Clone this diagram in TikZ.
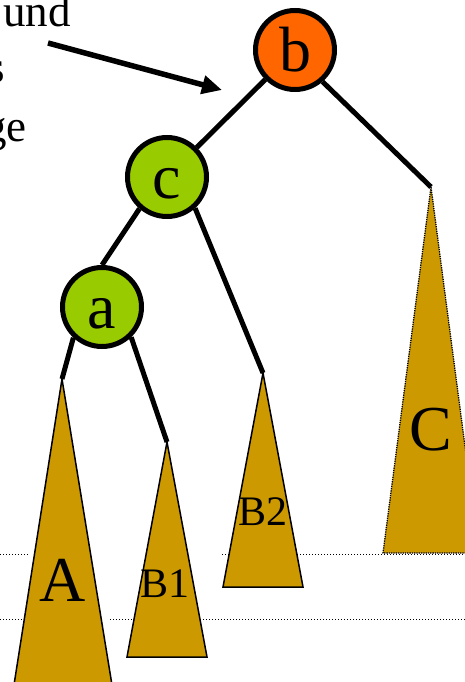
\documentclass[tikz,border=0pt]{standalone}
\usepackage{fontspec}
\setmainfont{Liberation Serif}
\usetikzlibrary{arrows.meta}
\definecolor{borange}{HTML}{FF6600}
\definecolor{lgreen}{HTML}{99CC00}
\definecolor{gold}{HTML}{CC9900}
\begin{document}
\begin{tikzpicture}[x=1pt,y=-1pt,
  treenode/.style={circle, draw=black, line width=5pt, minimum size=79pt, inner sep=0pt,
    font=\fontsize{64}{64}\selectfont, text height=43pt, text depth=0pt},
  treeedge/.style={line width=5pt},
  subtree/.style={fill=gold, draw=black, line width=1.5pt, line join=miter},
  biglabel/.style={inner sep=0pt, font=\fontsize{64}{64}\selectfont},
  smalllabel/.style={inner sep=0pt, font=\fontsize{42}{42}\selectfont},
  sidetext/.style={anchor=base east, inner sep=0pt, font=\fontsize{45}{45}\selectfont},
  guide/.style={dotted, line width=1pt, draw=black}
]
\useasboundingbox (0,0) rectangle (465,682);
\clip (0,0) rectangle (465,682);
% guide lines
\draw[guide] (0,554) -- (28,554);
\draw[guide] (222,554) -- (465,554);
\draw[guide] (0,619) -- (25,619);
\draw[guide] (110,619) -- (465,619);
% apexes
\coordinate (Atop) at (62,379);
\coordinate (B1top) at (167,442);
\coordinate (B2top) at (263,373);
\coordinate (Ctop) at (431,187);
% subtrees
\draw[subtree] (Atop) -- (13.5,688) -- (112.5,688) -- cycle;
\draw[subtree] (B1top) -- (127,657) -- (207,657) -- cycle;
\draw[subtree] (B2top) -- (223,587) -- (303,587) -- cycle;
\fill[gold] (Ctop) -- (383,553) -- (479,553) -- cycle;
\draw[densely dotted, line width=1.3pt] (Ctop) -- (383,553) -- (479,553) -- cycle;
\node[biglabel] (lA) at (63,580) {A};
\node[smalllabel] (lB1) at (165,584) {B1};
\node[smalllabel] (lB2) at (263,512) {B2};
\node[biglabel] (lC) at (431,430) {C};
% tree nodes
\node[treenode, fill=borange] (b) at (295,50) {b};
\node[treenode, fill=lgreen] (c) at (167,177) {c};
\node[treenode, fill=lgreen] (a) at (102,307) {a};
% edges
\draw[treeedge] (b) -- (c);
\draw[treeedge] (b.311) -- (Ctop);
\draw[treeedge] (c.229) -- (a.north);
\draw[treeedge] (c.312) -- (B2top);
\draw[treeedge] (a.227) -- (Atop);
\draw[treeedge] (a.314) -- (B1top);
% side text and arrow
\node[sidetext] (t1) at (71,27) {und};
\node[sidetext] (t2) at (5,83) {s};
\node[sidetext] (t3) at (27,141) {ge};
\coordinate (arrowstart) at (48,43);
\coordinate (arrowend) at (222,90);
\draw[line width=5.5pt, -{Triangle[length=20pt,width=18pt]}] (arrowstart) -- (arrowend);
\end{tikzpicture}
\end{document}
